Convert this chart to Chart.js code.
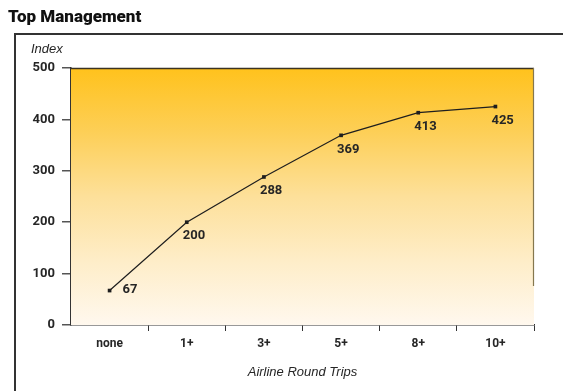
<!DOCTYPE html>
<html>
<head>
<meta charset="utf-8">
<title>Top Management</title>
<script src="https://cdn.jsdelivr.net/npm/chart.js@4.4.1/dist/chart.umd.min.js"></script>
<style>
  html, body { margin: 0; padding: 0; background: #fff; }
  #wrap { width: 563px; height: 391px; position: relative; }
</style>
</head>
<body>
<div id="wrap"><canvas id="trips-chart" width="563" height="391"></canvas></div>
<script>
// Index by number of airline round trips
const tripCategories = ['none', '1+', '3+', '5+', '8+', '10+'];
const indexValues = [67, 200, 288, 369, 413, 425];
const yTicks = [0, 100, 200, 300, 400, 500];

const boldFace = "Roboto, 'DejaVu Sans', sans-serif";
const plain = "'Liberation Sans', 'DejaVu Sans', sans-serif";
const ink = '#262626';

// Yellow wash behind the plot, frame lines, heading and value labels
const decorations = {
  id: 'decorations',
  beforeDatasetsDraw(chart) {
    const { ctx, chartArea: a } = chart;
    ctx.save();
    const g = ctx.createLinearGradient(0, a.top, 0, a.bottom);
    g.addColorStop(0, '#FFC21C');
    g.addColorStop(0.25, '#FDCF57');
    g.addColorStop(0.5, '#FDE09A');
    g.addColorStop(0.75, '#FEEDC8');
    g.addColorStop(1, '#FFF8EE');
    ctx.fillStyle = g;
    ctx.fillRect(a.left, a.top, a.right - a.left, a.bottom - a.top);

    // top edge of plot
    ctx.strokeStyle = '#3b3322';
    ctx.lineWidth = 1.5;
    ctx.beginPath();
    ctx.moveTo(a.left, a.top + 0.5);
    ctx.lineTo(a.right, a.top + 0.5);
    ctx.stroke();
    // right edge of plot
    ctx.strokeStyle = '#85774e';
    ctx.lineWidth = 1.2;
    ctx.beginPath();
    ctx.moveTo(a.right - 0.5, a.top);
    ctx.lineTo(a.right - 0.5, 286);
    ctx.stroke();
    ctx.restore();
  },
  afterDraw(chart) {
    const { ctx } = chart;
    ctx.save();
    // outer frame
    ctx.strokeStyle = '#333';
    ctx.lineWidth = 2;
    ctx.beginPath();
    ctx.moveTo(15, 391);
    ctx.lineTo(15, 34);
    ctx.lineTo(563, 34);
    ctx.stroke();

    ctx.fillStyle = '#111';
    ctx.font = "900 17px " + boldFace;
    ctx.textBaseline = 'alphabetic';
    ctx.fillText('Top Management', 8, 22);

    ctx.fillStyle = ink;
    ctx.font = "italic 13px " + plain;
    ctx.fillText('Index', 31, 53);

    // value labels next to each point
    const pts = chart.getDatasetMeta(0).data;
    ctx.font = "bold 13px " + boldFace;
    ctx.textBaseline = 'middle';
    pts.forEach((p, i) => {
      if (i === 0) {
        ctx.fillText(String(indexValues[i]), p.x + 13, p.y - 1);
      } else {
        ctx.fillText(String(indexValues[i]), p.x - 4, p.y + 14);
      }
    });
    ctx.restore();
  }
};

new Chart(document.getElementById('trips-chart'), {
  type: 'line',
  data: {
    labels: tripCategories,
    datasets: [{
      data: indexValues,
      borderColor: '#1e1e1e',
      borderWidth: 1.2,
      pointStyle: 'rect',
      pointRadius: 2.6,
      pointBackgroundColor: '#1e1e1e',
      pointBorderWidth: 0,
      tension: 0
    }]
  },
  options: {
    responsive: false,
    animation: false,
    events: [],
    layout: { padding: { top: 68, right: 29, bottom: 11, left: 0 } },
    plugins: { legend: { display: false }, tooltip: { enabled: false } },
    scales: {
      x: {
        offset: true,
        afterFit: s => { s.height = 55; },
        border: { color: '#333', width: 1.5 },
        grid: {
          offset: true,
          drawOnChartArea: false,
          drawTicks: true,
          tickLength: 6,
          color: c => c.index === 0 ? 'rgba(0,0,0,0)' : '#333',
          lineWidth: 1
        },
        ticks: {
          color: ink,
          padding: 6,
          font: { family: boldFace, size: 12, weight: 'bold' }
        },
        title: {
          display: true,
          text: 'Airline Round Trips',
          color: ink,
          padding: { top: 4, bottom: 0 },
          font: { family: plain, size: 13, style: 'italic' }
        }
      },
      y: {
        min: 0,
        max: 500,
        afterFit: s => { s.width = 71; },
        afterBuildTicks: s => { s.ticks = yTicks.map(v => ({ value: v })); },
        border: { color: '#333', width: 1.5 },
        grid: {
          drawOnChartArea: false,
          drawTicks: true,
          tickLength: 9,
          color: '#555',
          lineWidth: 1.5
        },
        ticks: {
          color: ink,
          padding: 7,
          font: { family: boldFace, size: 13, weight: 'bold' }
        }
      }
    }
  },
  plugins: [decorations]
});
</script>
</body>
</html>
